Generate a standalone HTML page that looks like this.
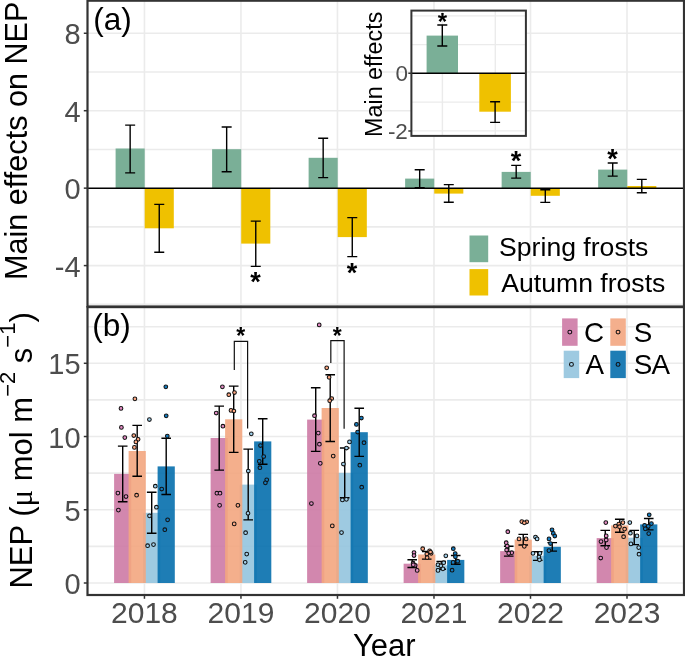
<!DOCTYPE html>
<html><head><meta charset="utf-8"><style>
html,body{margin:0;padding:0;background:#fff;}
body{width:685px;height:656px;overflow:hidden;}
svg{display:block;will-change:transform;font-family:"Liberation Sans", sans-serif;}
</style></head><body>
<svg width="685" height="656" viewBox="0 0 685 656">
<rect width="685" height="656" fill="#fff"/>
<line x1="87.5" x2="684.0" y1="304.31" y2="304.31" stroke="#EBEBEB" stroke-width="1.6"/>
<line x1="87.5" x2="684.0" y1="265.59" y2="265.59" stroke="#EBEBEB" stroke-width="1.6"/>
<line x1="87.5" x2="684.0" y1="226.87" y2="226.87" stroke="#EBEBEB" stroke-width="1.6"/>
<line x1="87.5" x2="684.0" y1="149.43" y2="149.43" stroke="#EBEBEB" stroke-width="1.6"/>
<line x1="87.5" x2="684.0" y1="110.71" y2="110.71" stroke="#EBEBEB" stroke-width="1.6"/>
<line x1="87.5" x2="684.0" y1="71.99" y2="71.99" stroke="#EBEBEB" stroke-width="1.6"/>
<line x1="87.5" x2="684.0" y1="33.27" y2="33.27" stroke="#EBEBEB" stroke-width="1.6"/>
<line x1="144.45" x2="144.45" y1="0.7" y2="306.5" stroke="#EBEBEB" stroke-width="1.6"/>
<line x1="240.96" x2="240.96" y1="0.7" y2="306.5" stroke="#EBEBEB" stroke-width="1.6"/>
<line x1="337.47" x2="337.47" y1="0.7" y2="306.5" stroke="#EBEBEB" stroke-width="1.6"/>
<line x1="433.98" x2="433.98" y1="0.7" y2="306.5" stroke="#EBEBEB" stroke-width="1.6"/>
<line x1="530.49" x2="530.49" y1="0.7" y2="306.5" stroke="#EBEBEB" stroke-width="1.6"/>
<line x1="627.00" x2="627.00" y1="0.7" y2="306.5" stroke="#EBEBEB" stroke-width="1.6"/>
<rect x="115.60" y="148.5" width="29.1" height="39.65" fill="#7AAF97"/>
<rect x="144.70" y="188.15" width="29.1" height="40.15" fill="#EFC100"/>
<rect x="212.11" y="149.2" width="29.1" height="38.95" fill="#7AAF97"/>
<rect x="241.21" y="188.15" width="29.1" height="55.45" fill="#EFC100"/>
<rect x="308.62" y="157.8" width="29.1" height="30.35" fill="#7AAF97"/>
<rect x="337.72" y="188.15" width="29.1" height="48.95" fill="#EFC100"/>
<rect x="405.13" y="178.6" width="29.1" height="9.55" fill="#7AAF97"/>
<rect x="434.23" y="188.15" width="29.1" height="5.45" fill="#EFC100"/>
<rect x="501.64" y="171.9" width="29.1" height="16.25" fill="#7AAF97"/>
<rect x="530.74" y="188.15" width="29.1" height="7.65" fill="#EFC100"/>
<rect x="598.15" y="169.6" width="29.1" height="18.55" fill="#7AAF97"/>
<rect x="627.25" y="186.0" width="29.1" height="2.15" fill="#EFC100"/>
<line x1="87.5" x2="684.0" y1="188.15" y2="188.15" stroke="#000" stroke-width="1.5"/>
<path d="M125.15 125.1H135.15M130.15 125.1V172.9M125.15 172.9H135.15" stroke="#000" stroke-width="1.4" fill="none"/>
<path d="M154.25 204.4H164.25M159.25 204.4V252.2M154.25 252.2H164.25" stroke="#000" stroke-width="1.4" fill="none"/>
<path d="M221.66 127.0H231.66M226.66 127.0V171.7M221.66 171.7H231.66" stroke="#000" stroke-width="1.4" fill="none"/>
<path d="M250.76 221.1H260.76M255.76 221.1V266.4M250.76 266.4H260.76" stroke="#000" stroke-width="1.4" fill="none"/>
<path d="M318.17 138.3H328.17M323.17 138.3V177.6M318.17 177.6H328.17" stroke="#000" stroke-width="1.4" fill="none"/>
<path d="M347.27 217.6H357.27M352.27 217.6V256.6M347.27 256.6H357.27" stroke="#000" stroke-width="1.4" fill="none"/>
<path d="M414.68 169.7H424.68M419.68 169.7V187.7M414.68 187.7H424.68" stroke="#000" stroke-width="1.4" fill="none"/>
<path d="M443.78 184.6H453.78M448.78 184.6V202.3M443.78 202.3H453.78" stroke="#000" stroke-width="1.4" fill="none"/>
<path d="M511.19 165.4H521.19M516.19 165.4V178.1M511.19 178.1H521.19" stroke="#000" stroke-width="1.4" fill="none"/>
<path d="M540.29 189.7H550.29M545.29 189.7V202.4M540.29 202.4H550.29" stroke="#000" stroke-width="1.4" fill="none"/>
<path d="M607.70 163.0H617.70M612.70 163.0V176.1M607.70 176.1H617.70" stroke="#000" stroke-width="1.4" fill="none"/>
<path d="M636.80 179.4H646.80M641.80 179.4V192.8M636.80 192.8H646.80" stroke="#000" stroke-width="1.4" fill="none"/>
<text x="255.51" y="291.21" font-family="Liberation Sans" font-weight="bold" font-size="27" text-anchor="middle" fill="#000">*</text>
<text x="352.02" y="281.81" font-family="Liberation Sans" font-weight="bold" font-size="27" text-anchor="middle" fill="#000">*</text>
<text x="515.94" y="170.31" font-family="Liberation Sans" font-weight="bold" font-size="27" text-anchor="middle" fill="#000">*</text>
<text x="612.45" y="168.21" font-family="Liberation Sans" font-weight="bold" font-size="27" text-anchor="middle" fill="#000">*</text>
<rect x="469.5" y="235.5" width="18.7" height="26.7" fill="#7AAF97"/>
<rect x="469.5" y="269.1" width="18.7" height="26.4" fill="#EFC100"/>
<text x="499.1" y="255.6" font-size="26.6" fill="#000">Spring frosts</text>
<text x="501.3" y="291.6" font-size="26.6" fill="#000">Autumn frosts</text>
<text x="93.3" y="30.4" font-size="31.5" fill="#000">(a)</text>
<rect x="411.4" y="10.6" width="114.50" height="125.30" fill="#fff"/>
<line x1="411.4" x2="525.9" y1="15.9" y2="15.9" stroke="#EBEBEB" stroke-width="1.4"/>
<line x1="411.4" x2="525.9" y1="44.6" y2="44.6" stroke="#EBEBEB" stroke-width="1.4"/>
<line x1="411.4" x2="525.9" y1="102.1" y2="102.1" stroke="#EBEBEB" stroke-width="1.4"/>
<line x1="411.4" x2="525.9" y1="130.9" y2="130.9" stroke="#EBEBEB" stroke-width="1.4"/>
<line x1="442.4" x2="442.4" y1="10.6" y2="135.9" stroke="#EBEBEB" stroke-width="1.4"/>
<line x1="495.3" x2="495.3" y1="10.6" y2="135.9" stroke="#EBEBEB" stroke-width="1.4"/>
<rect x="426.6" y="35.6" width="31.4" height="37.70" fill="#7AAF97"/>
<rect x="479.3" y="73.3" width="31.6" height="38.40" fill="#EFC100"/>
<line x1="411.4" x2="525.9" y1="73.3" y2="73.3" stroke="#000" stroke-width="1.6"/>
<path d="M437.30 25.0H447.30M442.30 25.0V46.0M437.30 46.0H447.30" stroke="#000" stroke-width="1.4" fill="none"/>
<path d="M490.10 101.7H500.10M495.10 101.7V122.4M490.10 122.4H500.10" stroke="#000" stroke-width="1.4" fill="none"/>
<text x="442.50" y="30.22" font-family="Liberation Sans" font-weight="bold" font-size="24" text-anchor="middle" fill="#000">*</text>
<rect x="411.4" y="10.6" width="114.50" height="125.30" fill="none" stroke="#333333" stroke-width="2"/>
<path d="M408.3 73.3H411.4M408.3 131H411.4" stroke="#333333" stroke-width="1.4"/>
<text x="407.9" y="81.4" font-size="22.5" fill="#4D4D4D" text-anchor="end">0</text>
<text x="407.9" y="139.1" font-size="22.5" fill="#4D4D4D" text-anchor="end">-2</text>
<text transform="translate(382.3,74.3) rotate(-90)" font-size="23.3" fill="#000" text-anchor="middle">Main effects</text>
<rect x="87.5" y="0.7" width="596.5" height="305.80" fill="none" stroke="#333333" stroke-width="2.2"/>
<line x1="87.5" x2="684.0" y1="546.38" y2="546.38" stroke="#EBEBEB" stroke-width="1.6"/>
<line x1="87.5" x2="684.0" y1="509.76" y2="509.76" stroke="#EBEBEB" stroke-width="1.6"/>
<line x1="87.5" x2="684.0" y1="473.15" y2="473.15" stroke="#EBEBEB" stroke-width="1.6"/>
<line x1="87.5" x2="684.0" y1="436.53" y2="436.53" stroke="#EBEBEB" stroke-width="1.6"/>
<line x1="87.5" x2="684.0" y1="399.91" y2="399.91" stroke="#EBEBEB" stroke-width="1.6"/>
<line x1="87.5" x2="684.0" y1="363.29" y2="363.29" stroke="#EBEBEB" stroke-width="1.6"/>
<line x1="87.5" x2="684.0" y1="326.68" y2="326.68" stroke="#EBEBEB" stroke-width="1.6"/>
<line x1="87.5" x2="684.0" y1="583.0" y2="583.0" stroke="#EBEBEB" stroke-width="1.6"/>
<line x1="144.45" x2="144.45" y1="307.1" y2="595.0" stroke="#EBEBEB" stroke-width="1.6"/>
<line x1="240.96" x2="240.96" y1="307.1" y2="595.0" stroke="#EBEBEB" stroke-width="1.6"/>
<line x1="337.47" x2="337.47" y1="307.1" y2="595.0" stroke="#EBEBEB" stroke-width="1.6"/>
<line x1="433.98" x2="433.98" y1="307.1" y2="595.0" stroke="#EBEBEB" stroke-width="1.6"/>
<line x1="530.49" x2="530.49" y1="307.1" y2="595.0" stroke="#EBEBEB" stroke-width="1.6"/>
<line x1="627.00" x2="627.00" y1="307.1" y2="595.0" stroke="#EBEBEB" stroke-width="1.6"/>
<rect x="114.10" y="473.9" width="17.2" height="109.10" fill="#CD7AA5" fill-opacity="0.9"/>
<rect x="143.10" y="512.8" width="17.2" height="70.20" fill="#93C4DE" fill-opacity="0.9"/>
<rect x="128.60" y="451.0" width="17.2" height="132.00" fill="#F3A680" fill-opacity="0.9"/>
<rect x="157.60" y="466.4" width="17.2" height="116.60" fill="#066FAD" fill-opacity="0.9"/>
<rect x="210.61" y="438.0" width="17.2" height="145.00" fill="#CD7AA5" fill-opacity="0.9"/>
<rect x="239.61" y="484.6" width="17.2" height="98.40" fill="#93C4DE" fill-opacity="0.9"/>
<rect x="225.11" y="419.3" width="17.2" height="163.70" fill="#F3A680" fill-opacity="0.9"/>
<rect x="254.11" y="441.4" width="17.2" height="141.60" fill="#066FAD" fill-opacity="0.9"/>
<rect x="307.12" y="419.6" width="17.2" height="163.40" fill="#CD7AA5" fill-opacity="0.9"/>
<rect x="336.12" y="472.9" width="17.2" height="110.10" fill="#93C4DE" fill-opacity="0.9"/>
<rect x="321.62" y="408.0" width="17.2" height="175.00" fill="#F3A680" fill-opacity="0.9"/>
<rect x="350.62" y="432.2" width="17.2" height="150.80" fill="#066FAD" fill-opacity="0.9"/>
<rect x="403.63" y="563.7" width="17.2" height="19.30" fill="#CD7AA5" fill-opacity="0.9"/>
<rect x="432.63" y="565.3" width="17.2" height="17.70" fill="#93C4DE" fill-opacity="0.9"/>
<rect x="418.13" y="554.5" width="17.2" height="28.50" fill="#F3A680" fill-opacity="0.9"/>
<rect x="447.13" y="559.9" width="17.2" height="23.10" fill="#066FAD" fill-opacity="0.9"/>
<rect x="500.14" y="551.1" width="17.2" height="31.90" fill="#CD7AA5" fill-opacity="0.9"/>
<rect x="529.14" y="555.7" width="17.2" height="27.30" fill="#93C4DE" fill-opacity="0.9"/>
<rect x="514.64" y="539.6" width="17.2" height="43.40" fill="#F3A680" fill-opacity="0.9"/>
<rect x="543.64" y="546.8" width="17.2" height="36.20" fill="#066FAD" fill-opacity="0.9"/>
<rect x="596.65" y="538.1" width="17.2" height="44.90" fill="#CD7AA5" fill-opacity="0.9"/>
<rect x="625.65" y="537.7" width="17.2" height="45.30" fill="#93C4DE" fill-opacity="0.9"/>
<rect x="611.15" y="525.4" width="17.2" height="57.60" fill="#F3A680" fill-opacity="0.9"/>
<rect x="640.15" y="524.4" width="17.2" height="58.60" fill="#066FAD" fill-opacity="0.9"/>
<path d="M117.90 446.1H127.50M122.70 446.1V501.8M117.90 501.8H127.50" stroke="#000" stroke-width="1.4" fill="none"/>
<path d="M132.40 425.4H142.00M137.20 425.4V476.3M132.40 476.3H142.00" stroke="#000" stroke-width="1.4" fill="none"/>
<path d="M146.90 492.2H156.50M151.70 492.2V533.3M146.90 533.3H156.50" stroke="#000" stroke-width="1.4" fill="none"/>
<path d="M161.40 438.2H171.00M166.20 438.2V494.5M161.40 494.5H171.00" stroke="#000" stroke-width="1.4" fill="none"/>
<path d="M214.41 406.1H224.01M219.21 406.1V470.1M214.41 470.1H224.01" stroke="#000" stroke-width="1.4" fill="none"/>
<path d="M228.91 386.1H238.51M233.71 386.1V452.4M228.91 452.4H238.51" stroke="#000" stroke-width="1.4" fill="none"/>
<path d="M243.41 449.1H253.01M248.21 449.1V519.9M243.41 519.9H253.01" stroke="#000" stroke-width="1.4" fill="none"/>
<path d="M257.91 418.7H267.51M262.71 418.7V464.3M257.91 464.3H267.51" stroke="#000" stroke-width="1.4" fill="none"/>
<path d="M310.92 387.8H320.52M315.72 387.8V451.4M310.92 451.4H320.52" stroke="#000" stroke-width="1.4" fill="none"/>
<path d="M325.42 374.8H335.02M330.22 374.8V441.5M325.42 441.5H335.02" stroke="#000" stroke-width="1.4" fill="none"/>
<path d="M339.92 448.0H349.52M344.72 448.0V497.7M339.92 497.7H349.52" stroke="#000" stroke-width="1.4" fill="none"/>
<path d="M354.42 408.2H364.02M359.22 408.2V456.4M354.42 456.4H364.02" stroke="#000" stroke-width="1.4" fill="none"/>
<path d="M407.43 559.8H417.03M412.23 559.8V567.5M407.43 567.5H417.03" stroke="#000" stroke-width="1.4" fill="none"/>
<path d="M421.93 551.5H431.53M426.73 551.5V559.1M421.93 559.1H431.53" stroke="#000" stroke-width="1.4" fill="none"/>
<path d="M436.43 561.4H446.03M441.23 561.4V569.3M436.43 569.3H446.03" stroke="#000" stroke-width="1.4" fill="none"/>
<path d="M450.93 555.5H460.53M455.73 555.5V564.2M450.93 564.2H460.53" stroke="#000" stroke-width="1.4" fill="none"/>
<path d="M503.94 546.3H513.54M508.74 546.3V556.1M503.94 556.1H513.54" stroke="#000" stroke-width="1.4" fill="none"/>
<path d="M518.44 534.4H528.04M523.24 534.4V545.0M518.44 545.0H528.04" stroke="#000" stroke-width="1.4" fill="none"/>
<path d="M532.94 551.7H542.54M537.74 551.7V560.4M532.94 560.4H542.54" stroke="#000" stroke-width="1.4" fill="none"/>
<path d="M547.44 542.6H557.04M552.24 542.6V551.1M547.44 551.1H557.04" stroke="#000" stroke-width="1.4" fill="none"/>
<path d="M600.45 530.4H610.05M605.25 530.4V545.7M600.45 545.7H610.05" stroke="#000" stroke-width="1.4" fill="none"/>
<path d="M614.95 519.2H624.55M619.75 519.2V532.2M614.95 532.2H624.55" stroke="#000" stroke-width="1.4" fill="none"/>
<path d="M629.45 530.4H639.05M634.25 530.4V544.6M629.45 544.6H639.05" stroke="#000" stroke-width="1.4" fill="none"/>
<path d="M643.95 518.5H653.55M648.75 518.5V529.9M643.95 529.9H653.55" stroke="#000" stroke-width="1.4" fill="none"/>
<circle cx="121" cy="408.4" r="1.85" fill="#E38BC4" stroke="#111" stroke-width="1.05"/>
<circle cx="121.4" cy="427.4" r="1.85" fill="#E38BC4" stroke="#111" stroke-width="1.05"/>
<circle cx="124.8" cy="437.6" r="1.85" fill="#E38BC4" stroke="#111" stroke-width="1.05"/>
<circle cx="117.9" cy="493.1" r="1.85" fill="#E38BC4" stroke="#111" stroke-width="1.05"/>
<circle cx="126" cy="496.5" r="1.85" fill="#E38BC4" stroke="#111" stroke-width="1.05"/>
<circle cx="118.4" cy="510.1" r="1.85" fill="#E38BC4" stroke="#111" stroke-width="1.05"/>
<circle cx="134.9" cy="398.8" r="1.85" fill="#FFA984" stroke="#111" stroke-width="1.05"/>
<circle cx="133.8" cy="435.5" r="1.85" fill="#FFA984" stroke="#111" stroke-width="1.05"/>
<circle cx="138.1" cy="439.3" r="1.85" fill="#FFA984" stroke="#111" stroke-width="1.05"/>
<circle cx="135.9" cy="441.9" r="1.85" fill="#FFA984" stroke="#111" stroke-width="1.05"/>
<circle cx="134.4" cy="447.4" r="1.85" fill="#FFA984" stroke="#111" stroke-width="1.05"/>
<circle cx="136.6" cy="495.2" r="1.85" fill="#FFA984" stroke="#111" stroke-width="1.05"/>
<circle cx="149.4" cy="419.5" r="1.85" fill="#A3D3EE" stroke="#111" stroke-width="1.05"/>
<circle cx="155.3" cy="486.2" r="1.85" fill="#A3D3EE" stroke="#111" stroke-width="1.05"/>
<circle cx="156.4" cy="507.2" r="1.85" fill="#A3D3EE" stroke="#111" stroke-width="1.05"/>
<circle cx="149.5" cy="515.8" r="1.85" fill="#A3D3EE" stroke="#111" stroke-width="1.05"/>
<circle cx="147.6" cy="545.7" r="1.85" fill="#A3D3EE" stroke="#111" stroke-width="1.05"/>
<circle cx="153.5" cy="544.6" r="1.85" fill="#A3D3EE" stroke="#111" stroke-width="1.05"/>
<circle cx="165.8" cy="386.8" r="1.85" fill="#137CC0" stroke="#111" stroke-width="1.05"/>
<circle cx="166.2" cy="415.8" r="1.85" fill="#137CC0" stroke="#111" stroke-width="1.05"/>
<circle cx="167.3" cy="436.1" r="1.85" fill="#137CC0" stroke="#111" stroke-width="1.05"/>
<circle cx="161.7" cy="489" r="1.85" fill="#137CC0" stroke="#111" stroke-width="1.05"/>
<circle cx="167.6" cy="519.8" r="1.85" fill="#137CC0" stroke="#111" stroke-width="1.05"/>
<circle cx="164.8" cy="529.7" r="1.85" fill="#137CC0" stroke="#111" stroke-width="1.05"/>
<circle cx="222.4" cy="386.8" r="1.85" fill="#E38BC4" stroke="#111" stroke-width="1.05"/>
<circle cx="216.2" cy="413" r="1.85" fill="#E38BC4" stroke="#111" stroke-width="1.05"/>
<circle cx="222.9" cy="426.2" r="1.85" fill="#E38BC4" stroke="#111" stroke-width="1.05"/>
<circle cx="216.9" cy="493.2" r="1.85" fill="#E38BC4" stroke="#111" stroke-width="1.05"/>
<circle cx="220" cy="493.2" r="1.85" fill="#E38BC4" stroke="#111" stroke-width="1.05"/>
<circle cx="219.6" cy="505.3" r="1.85" fill="#E38BC4" stroke="#111" stroke-width="1.05"/>
<circle cx="228.8" cy="394.7" r="1.85" fill="#FFA984" stroke="#111" stroke-width="1.05"/>
<circle cx="234.5" cy="392.5" r="1.85" fill="#FFA984" stroke="#111" stroke-width="1.05"/>
<circle cx="231" cy="410.4" r="1.85" fill="#FFA984" stroke="#111" stroke-width="1.05"/>
<circle cx="233.9" cy="411" r="1.85" fill="#FFA984" stroke="#111" stroke-width="1.05"/>
<circle cx="237.9" cy="505.3" r="1.85" fill="#FFA984" stroke="#111" stroke-width="1.05"/>
<circle cx="234.2" cy="523.9" r="1.85" fill="#FFA984" stroke="#111" stroke-width="1.05"/>
<circle cx="251.3" cy="433.8" r="1.85" fill="#A3D3EE" stroke="#111" stroke-width="1.05"/>
<circle cx="248.3" cy="471" r="1.85" fill="#A3D3EE" stroke="#111" stroke-width="1.05"/>
<circle cx="248" cy="513.3" r="1.85" fill="#A3D3EE" stroke="#111" stroke-width="1.05"/>
<circle cx="245.6" cy="532.7" r="1.85" fill="#A3D3EE" stroke="#111" stroke-width="1.05"/>
<circle cx="246.7" cy="554.1" r="1.85" fill="#A3D3EE" stroke="#111" stroke-width="1.05"/>
<circle cx="245.2" cy="562.3" r="1.85" fill="#A3D3EE" stroke="#111" stroke-width="1.05"/>
<circle cx="260.5" cy="445.5" r="1.85" fill="#137CC0" stroke="#111" stroke-width="1.05"/>
<circle cx="263.7" cy="456.5" r="1.85" fill="#137CC0" stroke="#111" stroke-width="1.05"/>
<circle cx="259.3" cy="461.3" r="1.85" fill="#137CC0" stroke="#111" stroke-width="1.05"/>
<circle cx="259.9" cy="467.7" r="1.85" fill="#137CC0" stroke="#111" stroke-width="1.05"/>
<circle cx="266.7" cy="479.8" r="1.85" fill="#137CC0" stroke="#111" stroke-width="1.05"/>
<circle cx="265.4" cy="482.8" r="1.85" fill="#137CC0" stroke="#111" stroke-width="1.05"/>
<circle cx="319.2" cy="324.9" r="1.85" fill="#E38BC4" stroke="#111" stroke-width="1.05"/>
<circle cx="314.5" cy="415.7" r="1.85" fill="#E38BC4" stroke="#111" stroke-width="1.05"/>
<circle cx="318.3" cy="433.1" r="1.85" fill="#E38BC4" stroke="#111" stroke-width="1.05"/>
<circle cx="319.4" cy="444.2" r="1.85" fill="#E38BC4" stroke="#111" stroke-width="1.05"/>
<circle cx="320.3" cy="463.3" r="1.85" fill="#E38BC4" stroke="#111" stroke-width="1.05"/>
<circle cx="311.4" cy="503.5" r="1.85" fill="#E38BC4" stroke="#111" stroke-width="1.05"/>
<circle cx="326.7" cy="367.8" r="1.85" fill="#FFA984" stroke="#111" stroke-width="1.05"/>
<circle cx="329.1" cy="377.3" r="1.85" fill="#FFA984" stroke="#111" stroke-width="1.05"/>
<circle cx="331.7" cy="398.5" r="1.85" fill="#FFA984" stroke="#111" stroke-width="1.05"/>
<circle cx="329.7" cy="400.7" r="1.85" fill="#FFA984" stroke="#111" stroke-width="1.05"/>
<circle cx="333.2" cy="456.1" r="1.85" fill="#FFA984" stroke="#111" stroke-width="1.05"/>
<circle cx="332.3" cy="525.9" r="1.85" fill="#FFA984" stroke="#111" stroke-width="1.05"/>
<circle cx="349.5" cy="441.9" r="1.85" fill="#A3D3EE" stroke="#111" stroke-width="1.05"/>
<circle cx="346.5" cy="448" r="1.85" fill="#A3D3EE" stroke="#111" stroke-width="1.05"/>
<circle cx="343.4" cy="464" r="1.85" fill="#A3D3EE" stroke="#111" stroke-width="1.05"/>
<circle cx="342.4" cy="499.9" r="1.85" fill="#A3D3EE" stroke="#111" stroke-width="1.05"/>
<circle cx="346.4" cy="499.3" r="1.85" fill="#A3D3EE" stroke="#111" stroke-width="1.05"/>
<circle cx="341.5" cy="532.6" r="1.85" fill="#A3D3EE" stroke="#111" stroke-width="1.05"/>
<circle cx="361.4" cy="418" r="1.85" fill="#137CC0" stroke="#111" stroke-width="1.05"/>
<circle cx="356.4" cy="424.4" r="1.85" fill="#137CC0" stroke="#111" stroke-width="1.05"/>
<circle cx="357.6" cy="432" r="1.85" fill="#137CC0" stroke="#111" stroke-width="1.05"/>
<circle cx="364" cy="442.7" r="1.85" fill="#137CC0" stroke="#111" stroke-width="1.05"/>
<circle cx="359.8" cy="465.2" r="1.85" fill="#137CC0" stroke="#111" stroke-width="1.05"/>
<circle cx="361.7" cy="487.2" r="1.85" fill="#137CC0" stroke="#111" stroke-width="1.05"/>
<circle cx="414" cy="552.5" r="1.85" fill="#E38BC4" stroke="#111" stroke-width="1.05"/>
<circle cx="414" cy="555.5" r="1.85" fill="#E38BC4" stroke="#111" stroke-width="1.05"/>
<circle cx="413.1" cy="563.2" r="1.85" fill="#E38BC4" stroke="#111" stroke-width="1.05"/>
<circle cx="415.1" cy="565.3" r="1.85" fill="#E38BC4" stroke="#111" stroke-width="1.05"/>
<circle cx="417.2" cy="570.4" r="1.85" fill="#E38BC4" stroke="#111" stroke-width="1.05"/>
<circle cx="413.3" cy="564.7" r="1.85" fill="#E38BC4" stroke="#111" stroke-width="1.05"/>
<circle cx="422.7" cy="548.7" r="1.85" fill="#FFA984" stroke="#111" stroke-width="1.05"/>
<circle cx="429.6" cy="550.9" r="1.85" fill="#FFA984" stroke="#111" stroke-width="1.05"/>
<circle cx="431.2" cy="553.3" r="1.85" fill="#FFA984" stroke="#111" stroke-width="1.05"/>
<circle cx="430.5" cy="552" r="1.85" fill="#FFA984" stroke="#111" stroke-width="1.05"/>
<circle cx="427.1" cy="557.6" r="1.85" fill="#FFA984" stroke="#111" stroke-width="1.05"/>
<circle cx="426.8" cy="554" r="1.85" fill="#FFA984" stroke="#111" stroke-width="1.05"/>
<circle cx="445.8" cy="555.8" r="1.85" fill="#A3D3EE" stroke="#111" stroke-width="1.05"/>
<circle cx="443.7" cy="562.7" r="1.85" fill="#A3D3EE" stroke="#111" stroke-width="1.05"/>
<circle cx="438" cy="564.7" r="1.85" fill="#A3D3EE" stroke="#111" stroke-width="1.05"/>
<circle cx="440.9" cy="565.8" r="1.85" fill="#A3D3EE" stroke="#111" stroke-width="1.05"/>
<circle cx="442.9" cy="568.8" r="1.85" fill="#A3D3EE" stroke="#111" stroke-width="1.05"/>
<circle cx="438" cy="570.4" r="1.85" fill="#A3D3EE" stroke="#111" stroke-width="1.05"/>
<circle cx="453.3" cy="548.7" r="1.85" fill="#137CC0" stroke="#111" stroke-width="1.05"/>
<circle cx="455.2" cy="553.5" r="1.85" fill="#137CC0" stroke="#111" stroke-width="1.05"/>
<circle cx="455.4" cy="556.8" r="1.85" fill="#137CC0" stroke="#111" stroke-width="1.05"/>
<circle cx="453.1" cy="562.4" r="1.85" fill="#137CC0" stroke="#111" stroke-width="1.05"/>
<circle cx="457.7" cy="561.2" r="1.85" fill="#137CC0" stroke="#111" stroke-width="1.05"/>
<circle cx="452.1" cy="570.2" r="1.85" fill="#137CC0" stroke="#111" stroke-width="1.05"/>
<circle cx="507.8" cy="531.7" r="1.85" fill="#E38BC4" stroke="#111" stroke-width="1.05"/>
<circle cx="506.2" cy="542.7" r="1.85" fill="#E38BC4" stroke="#111" stroke-width="1.05"/>
<circle cx="507.2" cy="546" r="1.85" fill="#E38BC4" stroke="#111" stroke-width="1.05"/>
<circle cx="506.6" cy="550" r="1.85" fill="#E38BC4" stroke="#111" stroke-width="1.05"/>
<circle cx="511.7" cy="552.7" r="1.85" fill="#E38BC4" stroke="#111" stroke-width="1.05"/>
<circle cx="508.7" cy="553.3" r="1.85" fill="#E38BC4" stroke="#111" stroke-width="1.05"/>
<circle cx="521.8" cy="521.6" r="1.85" fill="#FFA984" stroke="#111" stroke-width="1.05"/>
<circle cx="526.7" cy="521.8" r="1.85" fill="#FFA984" stroke="#111" stroke-width="1.05"/>
<circle cx="524.3" cy="522.8" r="1.85" fill="#FFA984" stroke="#111" stroke-width="1.05"/>
<circle cx="519" cy="538.9" r="1.85" fill="#FFA984" stroke="#111" stroke-width="1.05"/>
<circle cx="526.1" cy="538.9" r="1.85" fill="#FFA984" stroke="#111" stroke-width="1.05"/>
<circle cx="524.3" cy="546.3" r="1.85" fill="#FFA984" stroke="#111" stroke-width="1.05"/>
<circle cx="535.5" cy="537.1" r="1.85" fill="#A3D3EE" stroke="#111" stroke-width="1.05"/>
<circle cx="537.1" cy="538.9" r="1.85" fill="#A3D3EE" stroke="#111" stroke-width="1.05"/>
<circle cx="533" cy="553.3" r="1.85" fill="#A3D3EE" stroke="#111" stroke-width="1.05"/>
<circle cx="539.9" cy="553.3" r="1.85" fill="#A3D3EE" stroke="#111" stroke-width="1.05"/>
<circle cx="538.9" cy="557" r="1.85" fill="#A3D3EE" stroke="#111" stroke-width="1.05"/>
<circle cx="539.5" cy="559.8" r="1.85" fill="#A3D3EE" stroke="#111" stroke-width="1.05"/>
<circle cx="552" cy="529.8" r="1.85" fill="#137CC0" stroke="#111" stroke-width="1.05"/>
<circle cx="553.3" cy="533.4" r="1.85" fill="#137CC0" stroke="#111" stroke-width="1.05"/>
<circle cx="554.8" cy="536" r="1.85" fill="#137CC0" stroke="#111" stroke-width="1.05"/>
<circle cx="549" cy="538.9" r="1.85" fill="#137CC0" stroke="#111" stroke-width="1.05"/>
<circle cx="550.5" cy="543.5" r="1.85" fill="#137CC0" stroke="#111" stroke-width="1.05"/>
<circle cx="548.9" cy="550.6" r="1.85" fill="#137CC0" stroke="#111" stroke-width="1.05"/>
<circle cx="605.8" cy="522.6" r="1.85" fill="#E38BC4" stroke="#111" stroke-width="1.05"/>
<circle cx="606.2" cy="535.9" r="1.85" fill="#E38BC4" stroke="#111" stroke-width="1.05"/>
<circle cx="606.2" cy="540" r="1.85" fill="#E38BC4" stroke="#111" stroke-width="1.05"/>
<circle cx="601" cy="541.5" r="1.85" fill="#E38BC4" stroke="#111" stroke-width="1.05"/>
<circle cx="606.5" cy="547.6" r="1.85" fill="#E38BC4" stroke="#111" stroke-width="1.05"/>
<circle cx="600.7" cy="558" r="1.85" fill="#E38BC4" stroke="#111" stroke-width="1.05"/>
<circle cx="615.4" cy="526.1" r="1.85" fill="#FFA984" stroke="#111" stroke-width="1.05"/>
<circle cx="618.8" cy="524" r="1.85" fill="#FFA984" stroke="#111" stroke-width="1.05"/>
<circle cx="622.9" cy="522.6" r="1.85" fill="#FFA984" stroke="#111" stroke-width="1.05"/>
<circle cx="624.6" cy="529.1" r="1.85" fill="#FFA984" stroke="#111" stroke-width="1.05"/>
<circle cx="623.6" cy="536.7" r="1.85" fill="#FFA984" stroke="#111" stroke-width="1.05"/>
<circle cx="619.5" cy="526.7" r="1.85" fill="#FFA984" stroke="#111" stroke-width="1.05"/>
<circle cx="629.8" cy="522.6" r="1.85" fill="#A3D3EE" stroke="#111" stroke-width="1.05"/>
<circle cx="630.4" cy="533.2" r="1.85" fill="#A3D3EE" stroke="#111" stroke-width="1.05"/>
<circle cx="637" cy="535.9" r="1.85" fill="#A3D3EE" stroke="#111" stroke-width="1.05"/>
<circle cx="630.9" cy="543.9" r="1.85" fill="#A3D3EE" stroke="#111" stroke-width="1.05"/>
<circle cx="638.7" cy="547.6" r="1.85" fill="#A3D3EE" stroke="#111" stroke-width="1.05"/>
<circle cx="639" cy="554.2" r="1.85" fill="#A3D3EE" stroke="#111" stroke-width="1.05"/>
<circle cx="649.2" cy="514.8" r="1.85" fill="#137CC0" stroke="#111" stroke-width="1.05"/>
<circle cx="651.4" cy="523.6" r="1.85" fill="#137CC0" stroke="#111" stroke-width="1.05"/>
<circle cx="644.6" cy="525.4" r="1.85" fill="#137CC0" stroke="#111" stroke-width="1.05"/>
<circle cx="648.3" cy="526.3" r="1.85" fill="#137CC0" stroke="#111" stroke-width="1.05"/>
<circle cx="645.3" cy="528.8" r="1.85" fill="#137CC0" stroke="#111" stroke-width="1.05"/>
<circle cx="648.7" cy="533.6" r="1.85" fill="#137CC0" stroke="#111" stroke-width="1.05"/>
<path d="M234.31 370.1V341.3H247.61V428.4" stroke="#111" stroke-width="1.2" fill="none"/>
<path d="M330.82 363.1V340.7H344.12V428.8" stroke="#111" stroke-width="1.2" fill="none"/>
<text x="240.76" y="343.69" font-family="Liberation Sans" font-weight="bold" font-size="23" text-anchor="middle" fill="#000">*</text>
<text x="337.27" y="344.39" font-family="Liberation Sans" font-weight="bold" font-size="23" text-anchor="middle" fill="#000">*</text>
<rect x="562.1" y="318.4" width="15.5" height="27.4" fill="#D287AE"/>
<circle cx="569.85" cy="332.10" r="1.95" fill="#E38BC4" stroke="#111" stroke-width="1.05"/>
<rect x="610.3" y="318.4" width="15.5" height="27.4" fill="#F4AF8D"/>
<circle cx="618.05" cy="332.10" r="1.95" fill="#FFA984" stroke="#111" stroke-width="1.05"/>
<rect x="563.7" y="350.7" width="15.5" height="27.4" fill="#9ECAE1"/>
<circle cx="571.45" cy="364.40" r="1.95" fill="#A3D3EE" stroke="#111" stroke-width="1.05"/>
<rect x="610.3" y="350.7" width="15.5" height="27.4" fill="#1F7DB5"/>
<circle cx="618.05" cy="364.40" r="1.95" fill="#137CC0" stroke="#111" stroke-width="1.05"/>
<text x="583.9" y="342.0" font-size="27.8" fill="#000">C</text>
<text x="633.8" y="342.0" font-size="27.8" fill="#000">S</text>
<text x="585.5" y="374.1" font-size="27.8" fill="#000">A</text>
<text x="633.8" y="374.1" font-size="27.8" fill="#000" letter-spacing="-0.8">SA</text>
<text x="92.2" y="336.2" font-size="31.5" fill="#000">(b)</text>
<rect x="87.5" y="307.1" width="596.5" height="287.90" fill="none" stroke="#333333" stroke-width="2.2"/>
<line x1="83.8" x2="87.5" y1="33.27" y2="33.27" stroke="#333333" stroke-width="1.5"/>
<text x="80.6" y="44.27" font-size="29" fill="#4D4D4D" text-anchor="end">8</text>
<line x1="83.8" x2="87.5" y1="110.71" y2="110.71" stroke="#333333" stroke-width="1.5"/>
<text x="80.6" y="121.71" font-size="29" fill="#4D4D4D" text-anchor="end">4</text>
<line x1="83.8" x2="87.5" y1="188.15" y2="188.15" stroke="#333333" stroke-width="1.5"/>
<text x="80.6" y="199.15" font-size="29" fill="#4D4D4D" text-anchor="end">0</text>
<line x1="83.8" x2="87.5" y1="265.59" y2="265.59" stroke="#333333" stroke-width="1.5"/>
<text x="80.6" y="276.59" font-size="29" fill="#4D4D4D" text-anchor="end">-4</text>
<line x1="83.8" x2="87.5" y1="363.29" y2="363.29" stroke="#333333" stroke-width="1.5"/>
<text x="80.6" y="374.29" font-size="29" fill="#4D4D4D" text-anchor="end">15</text>
<line x1="83.8" x2="87.5" y1="436.53" y2="436.53" stroke="#333333" stroke-width="1.5"/>
<text x="80.6" y="447.53" font-size="29" fill="#4D4D4D" text-anchor="end">10</text>
<line x1="83.8" x2="87.5" y1="509.76" y2="509.76" stroke="#333333" stroke-width="1.5"/>
<text x="80.6" y="520.76" font-size="29" fill="#4D4D4D" text-anchor="end">5</text>
<line x1="83.8" x2="87.5" y1="583.00" y2="583.00" stroke="#333333" stroke-width="1.5"/>
<text x="80.6" y="594.00" font-size="29" fill="#4D4D4D" text-anchor="end">0</text>
<line x1="144.45" x2="144.45" y1="595.0" y2="598.8" stroke="#333333" stroke-width="1.5"/>
<text x="144.45" y="623.4" font-size="30" fill="#4D4D4D" text-anchor="middle">2018</text>
<line x1="240.96" x2="240.96" y1="595.0" y2="598.8" stroke="#333333" stroke-width="1.5"/>
<text x="240.96" y="623.4" font-size="30" fill="#4D4D4D" text-anchor="middle">2019</text>
<line x1="337.47" x2="337.47" y1="595.0" y2="598.8" stroke="#333333" stroke-width="1.5"/>
<text x="337.47" y="623.4" font-size="30" fill="#4D4D4D" text-anchor="middle">2020</text>
<line x1="433.98" x2="433.98" y1="595.0" y2="598.8" stroke="#333333" stroke-width="1.5"/>
<text x="433.98" y="623.4" font-size="30" fill="#4D4D4D" text-anchor="middle">2021</text>
<line x1="530.49" x2="530.49" y1="595.0" y2="598.8" stroke="#333333" stroke-width="1.5"/>
<text x="530.49" y="623.4" font-size="30" fill="#4D4D4D" text-anchor="middle">2022</text>
<line x1="627.00" x2="627.00" y1="595.0" y2="598.8" stroke="#333333" stroke-width="1.5"/>
<text x="627.00" y="623.4" font-size="30" fill="#4D4D4D" text-anchor="middle">2023</text>
<text x="384.3" y="656.2" font-size="31" fill="#000" text-anchor="middle">Year</text>
<text transform="translate(27.3,140.8) rotate(-90)" font-size="30.6" fill="#000" text-anchor="middle">Main effects on NEP</text>
<text transform="translate(32.2,450.4) rotate(-90)" font-size="31" fill="#000" text-anchor="middle">NEP (<tspan font-family="Liberation Serif">μ</tspan> mol m<tspan dy="-17" font-size="22">−2</tspan><tspan dy="17"> s</tspan><tspan dy="-17" font-size="22">−1</tspan><tspan dy="17">)</tspan></text>
</svg>
</body></html>
